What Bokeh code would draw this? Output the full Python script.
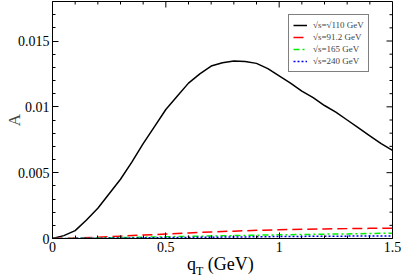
from bokeh.plotting import figure
from bokeh.models import Range1d, LinearAxis, Legend, LegendItem, FixedTicker, Div
from bokeh.layouts import column
from bokeh.embed import file_html
from bokeh.resources import INLINE
import math

q = [0, 0.05, 0.1, 0.15, 0.2, 0.25, 0.3, 0.35, 0.4, 0.45, 0.5, 0.55, 0.6, 0.65, 0.7,
     0.75, 0.8, 0.85, 0.9, 0.95, 1.0, 1.05, 1.1, 1.15, 1.2, 1.25, 1.3, 1.35, 1.4, 1.45, 1.5]
a110 = [0, 0.00022, 0.0006, 0.0014, 0.0023, 0.0034, 0.0045, 0.0058, 0.0072, 0.0085, 0.0098,
        0.0108, 0.0118, 0.0125, 0.0131, 0.01335, 0.01348, 0.01345, 0.0133, 0.0129, 0.01235,
        0.0118, 0.0112, 0.0107, 0.0101, 0.0096, 0.0090, 0.0084, 0.0078, 0.0072, 0.0067]

q2 = [0, 0.1, 0.2, 0.3, 0.4, 0.5, 0.6, 0.7, 0.8, 0.9, 1.0, 1.1, 1.2, 1.3, 1.4, 1.5]
a912 = [0, 0.00003, 0.0001, 0.00018, 0.00026, 0.00034, 0.00042, 0.0005, 0.00056, 0.00062,
        0.00066, 0.0007, 0.00073, 0.00075, 0.00077, 0.00078]
a165 = [0, 0.00001, 0.00004, 0.00007, 0.0001, 0.00013, 0.00016, 0.00019, 0.00022, 0.00025,
        0.00028, 0.0003, 0.00033, 0.00035, 0.00038, 0.0004]
a240 = [0, 0.00001, 0.00002, 0.00004, 0.00005, 0.00007, 0.00008, 0.0001, 0.00011, 0.00013,
        0.00015, 0.00016, 0.00017, 0.00018, 0.00019, 0.0002]

labels = ["\u221as=\u221a110 GeV", "\u221as=91.2 GeV", "\u221as=165 GeV", "\u221as=240 GeV"]

x_major = [0, 0.5, 1.0, 1.5]
x_major_labels = ["0", "0.5", "1", "1.5"]
x_minor = [0.1, 0.2, 0.3, 0.4, 0.6, 0.7, 0.8, 0.9, 1.1, 1.2, 1.3, 1.4]
y_major = [0, 0.005, 0.01, 0.015]
y_major_labels = ["0", "0.005", "0.01", "0.015"]
y_minor = [0.001, 0.002, 0.003, 0.004, 0.006, 0.007, 0.008, 0.009,
           0.011, 0.012, 0.013, 0.014, 0.016, 0.017]
X_MAX = 1.5
Y_MAX = 0.018

FONT = "Liberation Serif"

p = figure(width=401, height=258, output_backend="svg", toolbar_location=None,
           x_range=Range1d(0, X_MAX), y_range=Range1d(0, Y_MAX),
           min_border_left=52, min_border_right=9, min_border_top=1, min_border_bottom=20,
           x_axis_type=None, y_axis_type=None)
p.grid.visible = False
p.outline_line_color = "black"
p.outline_line_width = 1
p.background_fill_color = "white"
p.border_fill_color = "white"


def style_axis(ax):
    ax.major_tick_in = 6
    ax.major_tick_out = 0
    ax.minor_tick_in = 3
    ax.minor_tick_out = 0
    ax.axis_line_color = "black"
    ax.major_tick_line_color = "black"
    ax.minor_tick_line_color = "black"
    ax.major_label_text_font = FONT
    ax.major_label_text_color = "black"
    ax.major_label_text_font_size = "14px"
    ax.major_label_standoff = 4
    return ax


bx = style_axis(LinearAxis(ticker=FixedTicker(ticks=x_major, minor_ticks=x_minor)))
bx.major_label_overrides = dict(zip(x_major, x_major_labels))
bx.major_label_standoff = 3
ly = style_axis(LinearAxis(ticker=FixedTicker(ticks=y_major, minor_ticks=y_minor)))
ly.major_label_overrides = dict(zip(y_major, y_major_labels))
ly.major_label_standoff = 3
ly.axis_label = "A"
ly.axis_label_text_font = FONT
ly.axis_label_text_font_style = "normal"
ly.axis_label_text_font_size = "17px"
ly.axis_label_standoff = -9
p.add_layout(bx, "below")
p.add_layout(ly, "left")

# mirrored ticks on top and right edges (half of each dash is clipped by the frame)
p.scatter([X_MAX] * len(y_major), y_major, marker="dash", size=12, line_color="black", line_width=1)
p.scatter([X_MAX] * len(y_minor), y_minor, marker="dash", size=6, line_color="black", line_width=1)
p.scatter(x_major, [Y_MAX] * len(x_major), marker="dash", angle=math.pi / 2, size=12,
          line_color="black", line_width=1)
p.scatter(x_minor, [Y_MAX] * len(x_minor), marker="dash", angle=math.pi / 2, size=6,
          line_color="black", line_width=1)

r1 = p.line(q, a110, line_color="black", line_width=1.5)
r2 = p.line(q2, a912, line_color="red", line_width=1.5, line_dash="10 5")
r3 = p.line(q2, a165, line_color="#00ee00", line_width=1.5, line_dash="6 3 2 3")
r4 = p.line(q2, a240, line_color="blue", line_width=1.5, line_dash="2 2")

legend = Legend(items=[LegendItem(label=labels[i], renderers=[r]) for i, r in enumerate([r1, r2, r3, r4])],
                location=(236, 166))
legend.label_text_font = FONT
legend.label_text_font_size = "9px"
legend.border_line_color = "black"
legend.border_line_width = 1
legend.padding = 4
legend.margin = 0
legend.spacing = 0
legend.glyph_height = 12
legend.label_height = 12
legend.glyph_width = 14
legend.label_standoff = 6
legend.background_fill_alpha = 1
p.add_layout(legend)

xlabel = Div(
    text=('<div style="font-family:\'Liberation Serif\',serif; font-size:18px; line-height:18px; '
          'color:black; white-space:nowrap; margin:-9px 0 0 187px; padding:0;">'
          'q<span style="font-size:12px; line-height:11px; vertical-align:-5px;">T</span> (GeV)</div>'),
    width=401, height=19, margin=0)

layout = column(p, xlabel, spacing=0)

open("out.html", "w").write(file_html(layout, INLINE))
